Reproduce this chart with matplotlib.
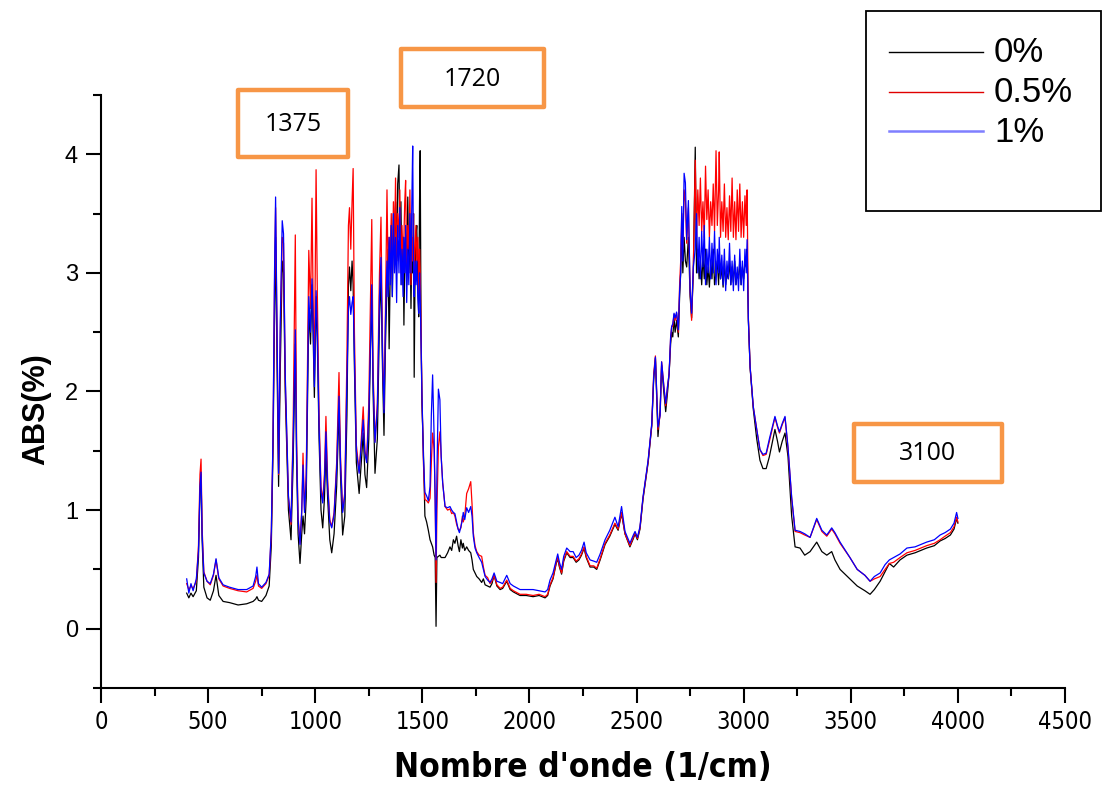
import matplotlib
matplotlib.use("Agg")
import matplotlib.pyplot as plt
from matplotlib import font_manager
from matplotlib.font_manager import FontProperties
from matplotlib.lines import Line2D
from matplotlib.patches import Rectangle
from matplotlib.ticker import MultipleLocator

# wavenumbers (1/cm), grouped by spectral region
wavenumber = (
    [400, 410, 420, 430, 445, 455, 462, 467, 472, 480, 495, 510, 525, 537, 550, 570, 600, 640, 680, 710,
     722, 728, 735, 750, 770, 785, 795]
    + [803, 810, 815, 822, 829, 837, 846, 852, 860, 875, 887, 897, 907, 913, 920, 929, 937, 943, 950, 958,
       965, 970, 978, 985, 990, 996, 1004, 1010, 1018, 1027, 1035, 1043, 1050, 1058, 1068, 1077, 1088, 1100, 1111, 1118,
       1128, 1138, 1148, 1155, 1160, 1166, 1172, 1177, 1183, 1192, 1205, 1215, 1224, 1232, 1240, 1250, 1258, 1264, 1270, 1279,
       1290, 1300, 1307, 1314, 1321, 1328]
    + [1335, 1340, 1345, 1350, 1355, 1360, 1365, 1370, 1375, 1380, 1385, 1391, 1395, 1400, 1405, 1410, 1414, 1418, 1422, 1427,
       1432, 1437, 1442, 1447, 1451, 1455, 1459, 1462, 1466, 1470, 1474, 1479, 1483, 1487, 1490, 1494, 1498]
    + [1505, 1512, 1520, 1528, 1536, 1542, 1548, 1555, 1560, 1564, 1568, 1575, 1582, 1588, 1595, 1606, 1618, 1629, 1637, 1645,
       1652, 1660, 1667, 1673, 1680, 1687, 1691, 1698, 1707, 1716, 1726, 1732, 1738, 1746, 1754, 1765, 1777, 1785, 1793, 1805,
       1816, 1825, 1835, 1848, 1863, 1875, 1894, 1910, 1925, 1956, 1985, 2017, 2045, 2073, 2085, 2096, 2110, 2125, 2132, 2140,
       2150, 2160, 2174, 2190, 2204, 2218, 2231, 2243, 2255, 2265, 2283, 2300, 2314, 2330, 2353, 2375, 2399, 2414, 2430, 2446,
       2469, 2485, 2493, 2504, 2516, 2530, 2554, 2571, 2580, 2588, 2600, 2610, 2617, 2627, 2636, 2645, 2652, 2659, 2664, 2669,
       2675, 2680, 2687, 2695, 2701, 2706, 2711, 2716, 2722, 2728, 2734, 2742, 2750, 2757, 2765]
    + [2774, 2780, 2786, 2792, 2798, 2804, 2810, 2816, 2822, 2828, 2834, 2840, 2846, 2852, 2858, 2864, 2871, 2877, 2883, 2886,
       2892, 2898, 2904, 2910, 2916, 2922, 2928, 2934, 2940, 2946, 2952, 2958, 2964, 2970, 2976, 2982, 2988, 2994, 3000, 3006,
       3012, 3016]
    + [3022, 3030, 3045, 3061, 3076, 3090, 3105, 3120, 3146, 3158, 3167, 3180, 3193, 3207, 3224, 3240, 3263, 3285, 3310, 3341,
       3365, 3388, 3411, 3426, 3450, 3496, 3530, 3566, 3590, 3610, 3637, 3660, 3680, 3700, 3730, 3762, 3800, 3854, 3890, 3917,
       3940, 3965, 3982, 3994, 4000]
)

abs_0 = (
    [0.30, 0.26, 0.30, 0.27, 0.32, 0.60, 1.15, 1.30, 0.75, 0.35, 0.26, 0.24, 0.32, 0.45, 0.28, 0.23, 0.22, 0.20, 0.21, 0.23,
     0.25, 0.27, 0.24, 0.23, 0.28, 0.36, 0.70]
    + [1.50, 2.60, 3.30, 2.20, 1.20, 2.20, 3.10, 3.00, 2.00, 1.00, 0.75, 1.40, 2.40, 1.40, 0.80, 0.55, 0.80, 0.95, 0.80, 1.10,
       2.00, 2.70, 2.40, 2.90, 2.50, 1.95, 2.80, 2.40, 1.60, 1.00, 0.85, 1.10, 1.50, 1.10, 0.75, 0.64, 0.80, 1.20, 1.85, 1.30,
       0.79, 0.95, 1.80, 2.90, 3.05, 2.85, 3.10, 2.90, 2.20, 1.40, 1.14, 1.40, 1.65, 1.30, 1.19, 1.60, 2.40, 2.80, 2.00, 1.31,
       1.60, 2.60, 3.00, 2.20, 1.63, 2.40]
    + [2.90, 3.20, 2.36, 3.00, 3.40, 2.80, 3.50, 3.30, 3.60, 3.10, 3.75, 3.91, 3.20, 3.60, 2.90, 3.30, 2.56, 3.10, 3.30, 2.90,
       3.64, 3.00, 3.40, 2.70, 3.20, 3.00, 3.50, 2.12, 3.00, 3.30, 3.40, 2.90, 2.63, 3.60, 4.03, 2.50, 1.90]
    + [1.50, 0.95, 0.90, 0.83, 0.75, 0.72, 0.69, 0.62, 0.60, 0.02, 0.60, 0.61, 0.62, 0.60, 0.60, 0.60, 0.64, 0.69, 0.66, 0.75,
       0.72, 0.78, 0.70, 0.65, 0.75, 0.68, 0.72, 0.66, 0.69, 0.66, 0.64, 0.58, 0.50, 0.47, 0.44, 0.42, 0.39, 0.42, 0.37, 0.36,
       0.35, 0.38, 0.45, 0.36, 0.33, 0.34, 0.40, 0.33, 0.31, 0.28, 0.28, 0.27, 0.28, 0.26, 0.28, 0.36, 0.42, 0.55, 0.59, 0.52,
       0.46, 0.57, 0.64, 0.60, 0.60, 0.56, 0.58, 0.62, 0.68, 0.60, 0.52, 0.52, 0.50, 0.58, 0.71, 0.78, 0.88, 0.83, 0.97, 0.80,
       0.69, 0.76, 0.80, 0.75, 0.84, 1.09, 1.40, 1.71, 2.10, 2.28, 1.62, 1.85, 2.22, 2.00, 1.83, 2.00, 2.15, 2.40, 2.50, 2.46,
       2.62, 2.50, 2.60, 2.46, 2.80, 3.00, 3.40, 3.00, 3.30, 3.10, 3.05, 3.30, 2.80, 2.62, 3.00]
    + [4.06, 3.00, 3.20, 2.95, 3.10, 2.90, 3.15, 2.95, 3.20, 2.90, 3.05, 2.88, 3.10, 2.95, 3.20, 2.90, 3.00, 3.10, 2.90, 3.15,
       2.95, 3.05, 2.88, 3.10, 2.90, 3.00, 2.95, 3.10, 2.90, 3.05, 2.92, 3.10, 2.90, 3.00, 2.95, 3.10, 2.90, 3.05, 2.95, 3.10,
       3.05, 3.20]
    + [2.60, 2.20, 1.85, 1.60, 1.42, 1.35, 1.35, 1.45, 1.68, 1.58, 1.49, 1.58, 1.65, 1.45, 0.95, 0.69, 0.68, 0.62, 0.65, 0.73,
       0.65, 0.62, 0.65, 0.58, 0.50, 0.42, 0.36, 0.32, 0.29, 0.33, 0.40, 0.48, 0.55, 0.52, 0.58, 0.62, 0.64, 0.68, 0.70, 0.74,
       0.76, 0.79, 0.84, 0.93, 0.89]
)

abs_05 = (
    [0.38, 0.33, 0.36, 0.34, 0.40, 0.70, 1.30, 1.43, 0.85, 0.48, 0.40, 0.37, 0.45, 0.58, 0.42, 0.36, 0.34, 0.32, 0.31, 0.34,
     0.40, 0.45, 0.36, 0.34, 0.38, 0.45, 0.80]
    + [1.60, 2.90, 3.55, 2.40, 1.30, 2.50, 3.30, 3.25, 2.10, 1.10, 0.88, 1.70, 3.32, 1.60, 0.95, 0.72, 1.00, 1.48, 1.00, 1.30,
       2.40, 3.19, 2.70, 3.63, 2.80, 2.10, 3.87, 2.80, 1.80, 1.20, 1.08, 1.30, 1.79, 1.25, 0.92, 0.86, 0.98, 1.40, 2.16, 1.45,
       0.99, 1.15, 2.30, 3.40, 3.55, 3.20, 3.60, 3.88, 2.50, 1.55, 1.32, 1.60, 1.87, 1.50, 1.42, 1.90, 2.80, 3.45, 2.20, 1.58,
       1.90, 3.00, 3.47, 2.40, 1.85, 2.70]
    + [3.70, 3.00, 3.30, 3.10, 3.50, 2.95, 3.60, 3.20, 3.80, 3.10, 3.50, 3.30, 3.70, 3.00, 3.40, 3.10, 3.30, 3.60, 3.78, 3.00,
       3.40, 3.20, 3.70, 2.90, 3.30, 3.10, 3.50, 2.90, 3.20, 3.40, 3.10, 3.30, 2.80, 3.20, 3.00, 2.50, 2.00]
    + [1.40, 1.09, 1.08, 1.06, 1.10, 1.40, 1.65, 1.51, 1.10, 0.39, 1.00, 1.53, 1.66, 1.45, 1.23, 1.03, 1.00, 1.01, 0.97, 0.98,
       0.95, 0.88, 0.84, 0.83, 0.85, 0.95, 0.90, 0.95, 1.14, 1.18, 1.24, 1.05, 0.81, 0.70, 0.65, 0.62, 0.61, 0.52, 0.45, 0.43,
       0.38, 0.40, 0.45, 0.37, 0.34, 0.35, 0.41, 0.34, 0.32, 0.29, 0.29, 0.28, 0.29, 0.27, 0.29, 0.37, 0.43, 0.56, 0.60, 0.53,
       0.47, 0.58, 0.65, 0.61, 0.61, 0.57, 0.59, 0.63, 0.69, 0.61, 0.53, 0.53, 0.51, 0.59, 0.72, 0.79, 0.89, 0.84, 0.98, 0.80,
       0.70, 0.77, 0.81, 0.76, 0.85, 1.10, 1.41, 1.72, 2.15, 2.30, 1.68, 1.80, 2.25, 2.05, 1.88, 2.05, 2.15, 2.45, 2.55, 2.55,
       2.65, 2.60, 2.66, 2.50, 2.90, 3.10, 3.50, 3.20, 3.70, 3.60, 3.25, 3.55, 2.85, 2.60, 3.05]
    + [3.95, 3.30, 3.70, 3.40, 3.80, 3.35, 3.60, 3.30, 3.90, 3.45, 3.70, 3.30, 3.60, 3.40, 3.75, 3.35, 4.03, 3.40, 3.70, 4.02,
       3.30, 3.60, 3.35, 3.75, 3.30, 3.55, 3.28, 3.65, 3.35, 3.80, 3.30, 3.60, 3.28, 3.70, 3.35, 3.75, 3.30, 3.60, 3.30, 3.65,
       3.40, 3.70]
    + [2.62, 2.21, 1.87, 1.68, 1.51, 1.46, 1.47, 1.58, 1.78, 1.70, 1.65, 1.72, 1.78, 1.52, 1.10, 0.82, 0.81, 0.79, 0.77, 0.92,
       0.82, 0.78, 0.84, 0.80, 0.72, 0.60, 0.50, 0.45, 0.40, 0.42, 0.44, 0.50, 0.55, 0.56, 0.60, 0.64, 0.66, 0.70, 0.72, 0.75,
       0.78, 0.81, 0.86, 0.94, 0.90]
)

abs_1 = (
    [0.42, 0.30, 0.38, 0.32, 0.42, 0.65, 1.20, 1.32, 0.80, 0.47, 0.40, 0.38, 0.46, 0.59, 0.43, 0.37, 0.35, 0.33, 0.33, 0.36,
     0.44, 0.52, 0.38, 0.35, 0.39, 0.46, 0.82]
    + [1.62, 3.00, 3.64, 2.50, 1.31, 2.60, 3.44, 3.33, 2.15, 1.12, 0.90, 1.60, 2.52, 1.50, 0.92, 0.71, 0.98, 1.38, 0.98, 1.25,
       2.20, 2.80, 2.50, 2.95, 2.60, 2.04, 2.85, 2.50, 1.70, 1.15, 1.06, 1.25, 1.66, 1.20, 0.90, 0.85, 0.96, 1.35, 1.96, 1.40,
       0.98, 1.12, 2.10, 2.70, 2.80, 2.65, 2.75, 2.80, 2.30, 1.50, 1.31, 1.55, 1.76, 1.48, 1.40, 1.80, 2.40, 2.90, 2.10, 1.57,
       1.85, 2.80, 3.13, 2.30, 1.82, 2.60]
    + [3.10, 2.80, 3.30, 2.90, 3.40, 2.80, 3.50, 3.00, 3.30, 2.75, 3.40, 3.00, 3.55, 2.90, 3.20, 2.80, 3.30, 3.00, 3.40, 2.75,
       3.20, 2.90, 3.50, 3.00, 3.60, 4.07, 3.00, 2.80, 3.10, 2.90, 3.10, 2.80, 2.66, 3.00, 2.80, 2.43, 1.99]
    + [1.45, 1.15, 1.12, 1.08, 1.20, 1.80, 2.14, 1.62, 1.05, 0.58, 1.30, 2.02, 1.93, 1.45, 1.23, 1.03, 1.02, 1.03, 1.00, 0.98,
       0.97, 0.90, 0.84, 0.81, 0.86, 0.92, 0.98, 0.92, 1.02, 0.98, 1.03, 0.95, 0.78, 0.68, 0.64, 0.60, 0.56, 0.50, 0.44, 0.41,
       0.39, 0.42, 0.47, 0.40, 0.39, 0.38, 0.45, 0.38, 0.36, 0.33, 0.33, 0.33, 0.32, 0.31, 0.33, 0.41, 0.47, 0.58, 0.63, 0.56,
       0.50, 0.61, 0.68, 0.65, 0.65, 0.60, 0.62, 0.66, 0.73, 0.64, 0.58, 0.57, 0.56, 0.63, 0.75, 0.83, 0.94, 0.86, 1.03, 0.82,
       0.72, 0.79, 0.82, 0.77, 0.86, 1.11, 1.42, 1.73, 2.12, 2.29, 1.70, 1.80, 2.25, 2.05, 1.90, 2.05, 2.15, 2.46, 2.55, 2.57,
       2.66, 2.62, 2.67, 2.52, 2.85, 3.00, 3.56, 3.10, 3.84, 3.76, 3.28, 3.61, 2.85, 2.66, 3.05]
    + [3.20, 3.50, 3.00, 3.30, 2.95, 3.35, 3.05, 3.40, 2.90, 3.20, 3.00, 3.30, 2.95, 3.25, 3.00, 3.35, 2.90, 3.20, 3.00, 3.30,
       2.95, 3.15, 2.90, 3.20, 2.85, 3.10, 2.95, 3.25, 2.90, 3.10, 2.85, 3.15, 2.90, 3.05, 2.85, 3.20, 2.90, 3.10, 2.85, 3.20,
       3.00, 3.28]
    + [2.60, 2.21, 1.87, 1.68, 1.51, 1.47, 1.48, 1.60, 1.79, 1.71, 1.66, 1.73, 1.79, 1.53, 1.11, 0.83, 0.82, 0.80, 0.77, 0.93,
       0.83, 0.79, 0.85, 0.81, 0.73, 0.60, 0.50, 0.45, 0.40, 0.44, 0.47, 0.54, 0.58, 0.60, 0.63, 0.68, 0.69, 0.73, 0.75, 0.79,
       0.81, 0.84, 0.89, 0.98, 0.93]
)

series_labels = ["0%", "0.5%", "1%"]
series_colors = ["#000000", "#ff0000", "#0000ff"]
legend_colors = ["#000000", "#e00000", "#7f7fff"]

peak_labels = ["1375", "1720", "3100"]

assert len(wavenumber) == len(abs_0) == len(abs_05) == len(abs_1)


def find_condensed(bold):
    """Look for an installed narrow/condensed sans face (Arial Narrow look)."""
    best, best_rank = None, 99
    prefs = ["Liberation", "Arial", "Noto Sans", "DejaVu", "Roboto", "Open Sans"]
    for f in font_manager.fontManager.ttflist:
        st = f.stretch
        cond = ("Narrow" in f.name or "Condensed" in f.name
                or (isinstance(st, str) and "condensed" in st)
                or (isinstance(st, (int, float)) and st < 100))
        if not cond or f.style != "normal" or "Mono" in f.name or "Serif" in f.name:
            continue
        w = f.weight
        is_bold = w == "bold" or (isinstance(w, (int, float)) and w >= 600)
        if is_bold != bold or (isinstance(w, (int, float)) and (w < 350 or (bold and w > 750))):
            continue
        rank = next((i for i, p in enumerate(prefs) if f.name.startswith(p)), len(prefs))
        if rank < best_rank:
            best, best_rank = f.fname, rank
    return best


narrow_reg = find_condensed(False)
narrow_bold = find_condensed(True)

plt.rcParams["font.family"] = ["Liberation Sans", "DejaVu Sans"]

W, H = 1102, 787
fig = plt.figure(figsize=(W / 100, H / 100), dpi=100)
ax = fig.add_axes([101 / W, 1 - 688 / H, (1065 - 101) / W, (688 - 95) / H])


def fpos(x, y):
    return x / W, 1 - y / H


for vals, color in zip([abs_0, abs_05, abs_1], series_colors):
    ax.plot(wavenumber, vals, color=color, linewidth=0.9)

ax.set_xlim(0, 4500)
ax.set_ylim(-0.5, 4.5)
ax.xaxis.set_major_locator(MultipleLocator(500))
ax.xaxis.set_minor_locator(MultipleLocator(250))
ax.yaxis.set_major_locator(MultipleLocator(1))
ax.yaxis.set_minor_locator(MultipleLocator(0.5))
ax.spines["top"].set_visible(False)
ax.spines["right"].set_visible(False)
for side in ["left", "bottom"]:
    ax.spines[side].set_linewidth(1.5)
ax.tick_params(which="major", direction="out", length=10.5, width=1.5)
ax.tick_params(which="minor", direction="out", length=5.5, width=1.5)
ax.tick_params(axis="y", which="major", labelsize=17, pad=6)
ax.tick_params(axis="x", which="major", pad=5)

if narrow_reg:
    xtick_font = FontProperties(fname=narrow_reg, size=17)
else:
    xtick_font = FontProperties(family="Liberation Sans", size=15)
for lab in ax.get_xticklabels():
    lab.set_fontproperties(xtick_font)

if narrow_bold:
    xlabel_font = FontProperties(fname=narrow_bold, size=24)
else:
    xlabel_font = FontProperties(family="Liberation Sans", weight="bold", size=24)
ax.set_xlabel("Nombre d'onde (1/cm)", fontproperties=xlabel_font)
ax.xaxis.set_label_coords(0.5, -0.107)
ax.set_ylabel("ABS(%)", fontsize=22, fontweight="bold")
ax.yaxis.set_label_coords(-0.052, 0.47)

# legend drawn as a framed box in the upper right corner
fig.add_artist(Rectangle(fpos(866, 211), 235 / W, 200 / H, transform=fig.transFigure,
                         fill=False, edgecolor="black", linewidth=1.3))
for i, (label, color) in enumerate(zip(series_labels, legend_colors)):
    y = 52 + i * 39.5
    lw = 1.8 if i == 2 else 1.0
    x0, y0 = fpos(889, y)
    x1, _ = fpos(983, y)
    fig.add_artist(Line2D([x0, x1], [y0, y0], transform=fig.transFigure, color=color, linewidth=lw))
    fig.text(*fpos(994, y + 1), label, fontsize=25, va="center", ha="left")

# orange annotation boxes
boxes = [(238, 90, 110, 67), (401, 49, 143, 58), (854, 424, 148, 58)]
for text, (bx, by, bw, bh) in zip(peak_labels, boxes):
    fig.add_artist(Rectangle(fpos(bx, by + bh), bw / W, bh / H, transform=fig.transFigure,
                             fill=False, edgecolor="#f79646", linewidth=3.2, joinstyle="round"))
    fig.text(*fpos(bx + bw / 2, by + bh / 2 + 1), text, fontsize=18, ha="center", va="center",
             family=["Open Sans", "DejaVu Sans"])

fig.savefig("out.png", dpi=100)
